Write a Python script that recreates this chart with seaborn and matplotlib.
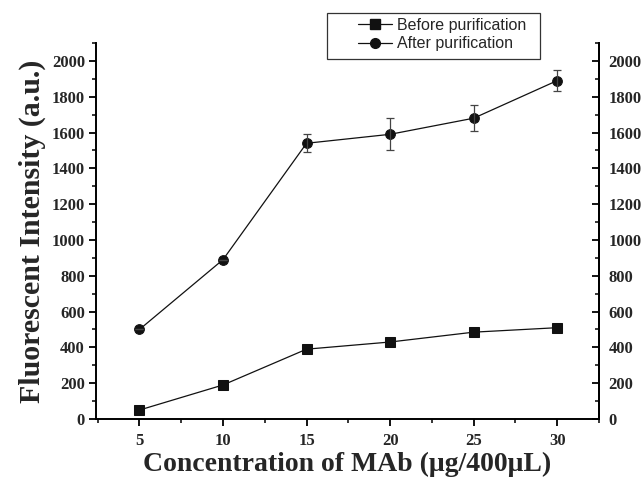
import matplotlib
matplotlib.use("Agg")
import matplotlib.pyplot as plt
import seaborn as sns
import pandas as pd
from matplotlib.ticker import MultipleLocator
from matplotlib.lines import Line2D
from matplotlib.patches import Rectangle

conc = [5, 10, 15, 20, 25, 30]
before = [50, 190, 390, 430, 485, 510]
after = [500, 890, 1540, 1590, 1680, 1890]
after_err = [0, 0, 50, 90, 72, 60]
series_names = ["Before purification", "After purification"]

sns.set_theme(style="white")
plt.rcParams["font.family"] = ["Liberation Serif", "DejaVu Serif"]

W, H = 643, 480
fig = plt.figure(figsize=(W / 100, H / 100), dpi=100)
ax = fig.add_axes([96 / W, 1 - 419 / H, (599 - 96) / W, (419 - 43) / H])

df = pd.DataFrame({"x": conc * 2, "y": before + after,
                   "s": [series_names[0]] * 6 + [series_names[1]] * 6})
sns.lineplot(data=df, x="x", y="y", hue="s", style="s",
             markers={series_names[0]: "s", series_names[1]: "o"},
             dashes=False, palette=["#111111", "#111111"], lw=0.9,
             markersize=7, markeredgecolor="#111111", ax=ax, legend=False)
ax.errorbar(conc, after, yerr=after_err, fmt="none", ecolor="#444444",
            elinewidth=0.9, capsize=3, capthick=0.9)

ax.set_xlim(2.4, 32.5)
ax.set_ylim(0, 2100)
ax.set_xticks([5, 10, 15, 20, 25, 30])
ax.xaxis.set_minor_locator(MultipleLocator(2.5))
ax.set_yticks(range(0, 2001, 200))
ax.yaxis.set_minor_locator(MultipleLocator(100))
for s in ["left", "bottom", "right"]:
    ax.spines[s].set_color("black")
    ax.spines[s].set_linewidth(1.4)
ax.spines["top"].set_visible(False)

ax.tick_params(axis="both", which="major", direction="out", length=5,
               width=1.3, color="black", labelsize=12, pad=3,
               bottom=True, left=True)
ax.tick_params(axis="x", which="major", pad=5)
ax.tick_params(axis="both", which="minor", direction="out", length=3,
               width=1.1, color="black", bottom=True, left=True)
for lab in ax.get_xticklabels() + ax.get_yticklabels():
    lab.set_fontweight("bold")

ax2 = ax.twinx()
ax2.set_ylim(ax.get_ylim())
ax2.set_yticks(range(0, 2001, 200))
ax2.yaxis.set_minor_locator(MultipleLocator(100))
ax2.tick_params(axis="y", which="major", direction="in", length=5, width=1.3,
                color="black", labelsize=12, right=True, pad=7)
ax2.tick_params(axis="y", which="minor", direction="in", length=3, width=1.1,
                color="black", right=True)
for s in ax2.spines.values():
    s.set_visible(False)
ax2.spines["right"].set_visible(True)
ax2.spines["right"].set_linewidth(1.4)
ax2.spines["right"].set_color("black")
for lab in ax2.get_yticklabels():
    lab.set_fontweight("bold")

ax.set_xlabel("Concentration of MAb (μg/400μL)", fontsize=20,
              fontweight="bold", labelpad=2)
ax.set_ylabel("Fluorescent Intensity (a.u.)", fontsize=21.5,
              fontweight="bold", labelpad=4)

# legend
handles = [Line2D([], [], color="#111111", lw=0.9, marker="s", markersize=6.5),
           Line2D([], [], color="#111111", lw=0.9, marker="o", markersize=7)]
leg = fig.legend(handles, series_names, loc="upper left",
                 bbox_to_anchor=(358 / W, 1 - 18 / H), frameon=False,
                 prop={"family": "Liberation Sans", "size": 11.5},
                 handlelength=2.1, borderpad=0.0, labelspacing=0.2,
                 handletextpad=0.35, borderaxespad=0)
fig.patches.append(Rectangle((327 / W, 1 - 59 / H), (540 - 327) / W,
                             (59 - 13) / H, transform=fig.transFigure,
                             fill=False, edgecolor="#333333", lw=0.9))

fig.savefig("out.png", dpi=100)
